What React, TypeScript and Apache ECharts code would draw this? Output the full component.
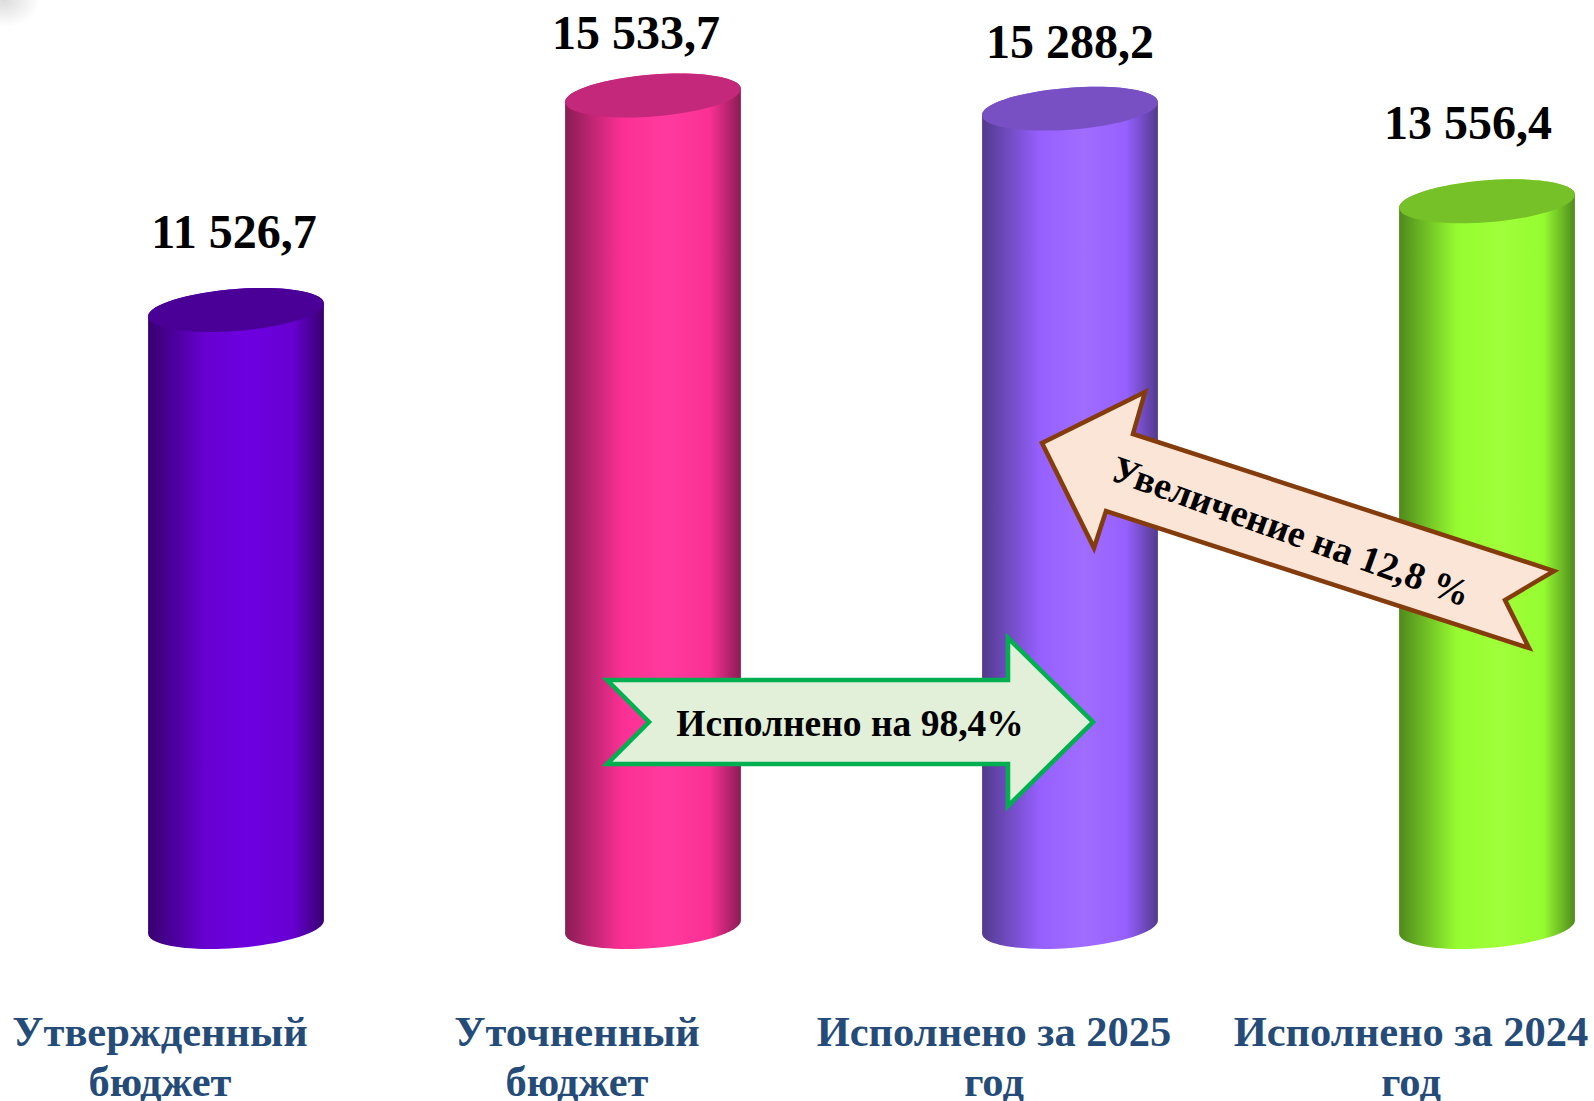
import React, { useEffect, useRef } from "react";
import * as echarts from "echarts";

const categories = ["Утвержденный\nбюджет", "Уточненный\nбюджет", "Исполнено за 2025\nгод", "Исполнено за 2024\nгод"];
const values = [11526.7, 15533.7, 15288.2, 13556.4];
const valueLabels = ["11 526,7", "15 533,7", "15 288,2", "13 556,4"];
const labelOffsetX = [-2, -17, 0, -19];
const labelOffsetY = [-78, -63, -67, -79];
const barBase = ["#6700D2", "#FC3094", "#9660FF", "#96FC30"];
const barPeak = ["#6E00E0", "#FF3A9E", "#A06CFF", "#A0FF3A"];
const barEdge = ["#38006F", "#8A1C55", "#523A8C", "#4F8A1C"];
const barTop = ["#4A0096", "#C4287A", "#7850C4", "#76C028"];
const executedText = "Исполнено на 98,4%";
const increaseText = "Увеличение на 12,8 %";
const SERIF = '"Liberation Serif", "Times New Roman", serif';

const num = (n: number) => n.toFixed(2);

function renderCylinder(params: any, api: any) {
  const i = params.dataIndex;
  const top = api.coord([api.value(0), api.value(1)]);
  const base = api.coord([api.value(0), 0]);
  const hw = api.size([1, 0])[0] * 0.2108;
  const cx = top[0];
  const tilt = 6.5;
  const ry = 21;
  const k = 0.5523;
  // the ellipse: c + u cos t + v sin t, with u running to the right wall
  const pt = (c: number[], a: number, b: number) => [
    c[0] + hw * a,
    c[1] - tilt * a + ry * b,
  ];
  const arc = (c: number[], a0: number, b0: number, a1: number, b1: number) => {
    const p1 = pt(c, a0 + k * a1, b0 + k * b1);
    const p2 = pt(c, a1 + k * a0, b1 + k * b0);
    const p3 = pt(c, a1, b1);
    return `C${num(p1[0])} ${num(p1[1])} ${num(p2[0])} ${num(p2[1])} ${num(p3[0])} ${num(p3[1])}`;
  };
  const M = (p: number[]) => `M${num(p[0])} ${num(p[1])}`;
  const L = (p: number[]) => `L${num(p[0])} ${num(p[1])}`;
  const t = [cx, top[1]];
  const b = [cx, base[1]];

  const body =
    M(pt(t, -1, 0)) +
    L(pt(b, -1, 0)) +
    arc(b, -1, 0, 0, 1) +
    arc(b, 0, 1, 1, 0) +
    L(pt(t, 1, 0)) +
    arc(t, 1, 0, 0, -1) +
    arc(t, 0, -1, -1, 0) +
    "Z";
  const lid =
    M(pt(t, -1, 0)) +
    arc(t, -1, 0, 0, 1) +
    arc(t, 0, 1, 1, 0) +
    arc(t, 1, 0, 0, -1) +
    arc(t, 0, -1, -1, 0) +
    "Z";

  return {
    type: "group",
    children: [
      {
        type: "path",
        shape: { pathData: body },
        style: {
          fill: new echarts.graphic.LinearGradient(0, 0, 1, 0, [
            { offset: 0, color: barEdge[i] },
            { offset: 0.33, color: barBase[i] },
            { offset: 0.58, color: barPeak[i] },
            { offset: 0.82, color: barBase[i] },
            { offset: 1, color: barEdge[i] },
          ]),
        },
      },
      {
        type: "path",
        shape: { pathData: lid },
        style: { fill: barTop[i] },
      },
      {
        type: "text",
        style: {
          text: valueLabels[i],
          x: cx + labelOffsetX[i],
          y: top[1] + labelOffsetY[i],
          align: "center",
          verticalAlign: "middle",
          fill: "#000000",
          font: `bold 48px ${SERIF}`,
        },
      },
    ],
  };
}

export default function App() {
  const ref = useRef<HTMLDivElement>(null);
  useEffect(() => {
    document.body.style.margin = "0";
    const chart = echarts.init(ref.current!, undefined, { renderer: "svg" });
    chart.setOption({
      animation: false,
      backgroundColor: "#FFFFFF",
      grid: { left: 27.5, top: 17, width: 1668, height: 910, containLabel: false, outerBoundsMode: "none" },
      xAxis: {
        type: "category",
        data: categories,
        boundaryGap: true,
        axisLine: { show: false },
        axisTick: { show: false },
        splitLine: { show: false },
        axisLabel: {
          interval: 0,
          hideOverlap: false,
          margin: 79,
          color: "#254C78",
          fontFamily: SERIF,
          fontWeight: "bold",
          fontSize: 42.5,
          lineHeight: 50,
          align: "center",
          padding: [0, 152, 0, 0],
        },
      },
      yAxis: { type: "value", min: 0, max: 17000, show: false, splitLine: { show: false } },
      series: [
        {
          type: "custom",
          clip: false,
          renderItem: renderCylinder,
          encode: { x: 0, y: 1 },
          data: values.map((v, i) => [i, v]),
          z: 2,
        },
      ],
      graphic: [
        {
          type: "rect",
          z: 1,
          shape: { x: 0, y: 0, width: 40, height: 30 },
          style: {
            fill: new echarts.graphic.RadialGradient(0.1, 0, 0.9, [
              { offset: 0, color: "#DCDCDC" },
              { offset: 1, color: "#FFFFFF" },
            ]),
          },
        },
        {
          type: "polygon",
          z: 100,
          shape: {
            points: [[607, 680], [1008, 680], [1008, 638], [1093, 722], [1008, 806], [1008, 764], [607, 764], [649, 722]],
          },
          style: { fill: "#E2EFD9", stroke: "#00B050", lineWidth: 4.5 },
        },
        {
          type: "text",
          z: 101,
          x: 850,
          y: 723,
          style: {
            text: executedText,
            align: "center",
            verticalAlign: "middle",
            fill: "#000000",
            font: `bold 37.5px ${SERIF}`,
          },
        },
        {
          type: "polygon",
          z: 100,
          shape: {
            points: [[1042, 443], [1145, 392], [1133, 434], [1554, 571], [1505, 600], [1529, 648], [1106, 511], [1094, 548]],
          },
          style: { fill: "#FBE5D6", stroke: "#843C0C", lineWidth: 4.5 },
        },
        {
          type: "text",
          z: 101,
          x: 1291,
          y: 531,
          rotation: (-19.7 * Math.PI) / 180,
          style: {
            text: increaseText,
            align: "center",
            verticalAlign: "middle",
            fill: "#000000",
            font: `bold 38px ${SERIF}`,
          },
        },
      ],
    });
    return () => chart.dispose();
  }, []);
  return <div ref={ref} style={{ width: 1594, height: 1101 }} />;
}
